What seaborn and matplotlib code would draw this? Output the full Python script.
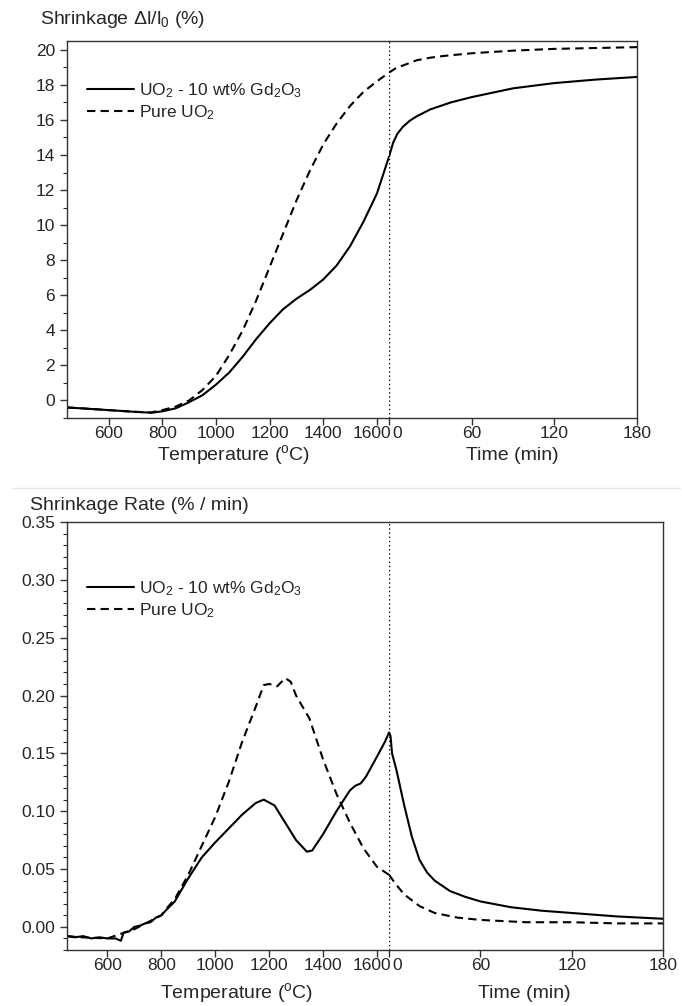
import numpy as np
import pandas as pd
import seaborn as sns
import matplotlib.pyplot as plt
import matplotlib.transforms as mtransforms
from matplotlib.lines import Line2D
from matplotlib.ticker import MultipleLocator

# ------------------ DATA ------------------
GD = r'UO$_2$ - 10 wt% Gd$_2$O$_3$'
PURE = r'Pure UO$_2$'

# shrinkage (%) vs temperature (C) during heating
temp_gd = [445, 500, 600, 700, 760, 800, 850, 900, 950, 1000, 1050, 1100, 1150,
           1200, 1250, 1300, 1350, 1400, 1450, 1500, 1550, 1600, 1645]
shr_gd = [-0.4, -0.45, -0.55, -0.65, -0.7, -0.62, -0.45, -0.1, 0.3, 0.9, 1.6, 2.5, 3.5,
          4.4, 5.2, 5.8, 6.3, 6.9, 7.7, 8.8, 10.2, 11.8, 13.9]
temp_pure = [445, 500, 600, 700, 760, 800, 850, 900, 950, 1000, 1050, 1100, 1150,
             1200, 1250, 1300, 1350, 1400, 1450, 1500, 1550, 1600, 1645]
shr_pure = [-0.4, -0.45, -0.55, -0.65, -0.68, -0.55, -0.35, 0.0, 0.6, 1.4, 2.6, 4.0, 5.7,
            7.6, 9.5, 11.4, 13.1, 14.6, 15.8, 16.8, 17.6, 18.2, 18.7]

# shrinkage (%) vs time (min) in isothermal hold
time_gd = [0, 3, 6, 10, 15, 20, 30, 45, 60, 90, 120, 150, 180]
shr_time_gd = [13.9, 14.7, 15.2, 15.6, 15.95, 16.2, 16.6, 17.0, 17.3, 17.8, 18.1, 18.3, 18.45]
time_pure = [0, 5, 10, 20, 30, 40, 60, 90, 120, 150, 180]
shr_time_pure = [18.7, 18.95, 19.1, 19.4, 19.55, 19.65, 19.8, 19.95, 20.05, 20.1, 20.15]

# shrinkage rate (%/min) vs temperature
rtemp_gd = [450, 480, 510, 540, 570, 600, 630, 650, 660, 680, 700, 720, 740, 760, 780,
            800, 820, 850, 900, 950, 1000, 1050, 1100, 1150, 1180, 1220, 1260, 1300,
            1340, 1360, 1400, 1450, 1500, 1520, 1540, 1560, 1600, 1630, 1645]
rate_gd = [-0.008, -0.009, -0.008, -0.01, -0.009, -0.01, -0.01, -0.012, -0.005, -0.004,
           0.0, 0.001, 0.003, 0.004, 0.008, 0.01, 0.015, 0.022, 0.042, 0.06, 0.073, 0.085,
           0.097, 0.107, 0.11, 0.105, 0.09, 0.075, 0.065, 0.066, 0.08, 0.1, 0.118, 0.122,
           0.124, 0.13, 0.147, 0.16, 0.168]
rtemp_pure = [450, 500, 600, 700, 800, 820, 850, 900, 950, 1000, 1050, 1100, 1150, 1180,
              1200, 1230, 1260, 1280, 1300, 1350, 1400, 1450, 1500, 1550, 1600, 1645]
rate_pure = [-0.008, -0.009, -0.01, -0.002, 0.01, 0.016, 0.024, 0.045, 0.07, 0.095, 0.125,
             0.16, 0.19, 0.209, 0.21, 0.208, 0.215, 0.212, 0.2, 0.18, 0.145, 0.115, 0.09,
             0.068, 0.052, 0.045]

# shrinkage rate (%/min) vs time
rtime_gd = [0, 1, 2, 5, 10, 15, 20, 25, 30, 40, 50, 60, 80, 100, 120, 150, 180]
rate_time_gd = [0.168, 0.165, 0.15, 0.135, 0.105, 0.078, 0.058, 0.047, 0.04, 0.031, 0.026,
                0.022, 0.017, 0.014, 0.012, 0.009, 0.007]
rtime_pure = [0, 5, 10, 20, 30, 45, 60, 90, 120, 150, 180]
rate_time_pure = [0.045, 0.036, 0.028, 0.018, 0.012, 0.008, 0.006, 0.004, 0.004, 0.003, 0.003]

temp_ticks = [600, 800, 1000, 1200, 1400, 1600]
time_ticks = [0, 60, 120, 180]


def long_df(x1, y1, x2, y2):
    return pd.concat([
        pd.DataFrame({'x': x1, 'y': y1, 'sample': GD}),
        pd.DataFrame({'x': x2, 'y': y2, 'sample': PURE}),
    ], ignore_index=True)


# ------------------ STYLE ------------------
sns.set_style('ticks')
plt.rcParams['font.family'] = ['Liberation Sans', 'DejaVu Sans']
plt.rcParams['mathtext.fontset'] = 'custom'
plt.rcParams['mathtext.rm'] = 'Liberation Sans'
plt.rcParams['mathtext.it'] = 'Liberation Sans:italic'
plt.rcParams['mathtext.default'] = 'regular'

W, H = 682, 1006
fig = plt.figure(figsize=(W / 100, H / 100), dpi=100)
FS = 13
dash_map = {GD: '', PURE: (4, 2.5)}


def px_axes(left, right, top, bottom, **kw):
    return fig.add_axes([left / W, 1 - bottom / H, (right - left) / W, (bottom - top) / H], **kw)


def shift_label(lbl, dx):
    lbl.set_transform(lbl.get_transform() + mtransforms.ScaledTranslation(dx / 100, 0, fig.dpi_scale_trans))


def panel(box, df_temp, df_time, tlim, ylim, major, minor, fmt, title, title_pos,
          legend_y, xlabel_y, xlabel_x):
    left, mid, right, top, bottom = box
    axT = px_axes(left, mid, top, bottom)
    axt = px_axes(mid, right, top, bottom, sharey=axT)

    for ax, df in ((axT, df_temp), (axt, df_time)):
        sns.lineplot(data=df, x='x', y='y', style='sample', dashes=dash_map,
                     color='black', linewidth=1.5, estimator=None, sort=False,
                     legend=False, ax=ax)
        ax.set_xlabel('')
        ax.set_ylabel('')
        for s in ax.spines.values():
            s.set_linewidth(1.0)
            s.set_color('#333333')
        ax.tick_params(axis='both', direction='out', length=5, width=1.0,
                       labelsize=FS - 0.5, color='#333333')
        ax.tick_params(axis='x', pad=1)

    axT.set_xlim(*tlim)
    axT.set_xticks(temp_ticks)
    axT.spines['right'].set_visible(False)
    axT.set_ylim(*ylim)
    axT.yaxis.set_major_locator(MultipleLocator(major))
    axT.yaxis.set_minor_locator(MultipleLocator(minor))
    axT.tick_params(axis='y', which='minor', direction='out', length=3, width=0.8)
    axT.yaxis.set_major_formatter(fmt)

    axt.set_xlim(0, 180)
    axt.set_xticks(time_ticks)
    axt.spines['left'].set_visible(False)
    axt.tick_params(axis='y', which='both', left=False, labelleft=False)
    axt.axvline(0, color='black', linestyle=(0, (1, 2)), linewidth=1.0, zorder=0)

    # keep "1600" and "0" apart at the junction
    shift_label(axT.get_xticklabels()[-1], -5)
    shift_label(axt.get_xticklabels()[0], 8)

    fig.text(xlabel_x[0] / W, 1 - xlabel_y / H, r'Temperature ($^{\rm o}$C)',
             fontsize=FS + 1, ha='center', va='center')
    fig.text(xlabel_x[1] / W, 1 - xlabel_y / H, 'Time (min)',
             fontsize=FS + 1, ha='center', va='center')

    fig.text(title_pos[0] / W, 1 - title_pos[1] / H, title, fontsize=FS + 1,
             ha='left', va='center')

    handles = [Line2D([], [], color='black', lw=1.5, ls='-'),
               Line2D([], [], color='black', lw=1.5, ls=(0, (4, 2.5)))]
    axT.legend(handles, [GD, PURE], loc='upper left', frameon=False, fontsize=FS - 0.5,
               bbox_to_anchor=(80 / W, 1 - legend_y / H), bbox_transform=fig.transFigure,
               handlelength=2.7, handletextpad=0.3, labelspacing=0.2, borderaxespad=0)


panel((67, 389, 637, 41, 418),
      long_df(temp_gd, shr_gd, temp_pure, shr_pure),
      long_df(time_gd, shr_time_gd, time_pure, shr_time_pure),
      (445, 1645), (-1.0, 20.5), 2, 1, lambda v, _: f'{v:.0f}',
      r'Shrinkage $\Delta$l/l$_0$ (%)', (40, 20), 74, 455, (234, 512))

panel((67, 389, 663, 522, 950),
      long_df(rtemp_gd, rate_gd, rtemp_pure, rate_pure),
      long_df(rtime_gd, rate_time_gd, rtime_pure, rate_time_pure),
      (450, 1645), (-0.02, 0.35), 0.05, 0.01, lambda v, _: f'{v:.2f}',
      'Shrinkage Rate (% / min)', (30, 505), 572, 993, (237, 524))

# faint page separator between the two panels
fig.add_artist(Line2D([12 / W, 680 / W], [1 - 488 / H, 1 - 488 / H],
                      color='#e6e6e6', lw=1.0, transform=fig.transFigure))

fig.savefig('out.png', dpi=100)
